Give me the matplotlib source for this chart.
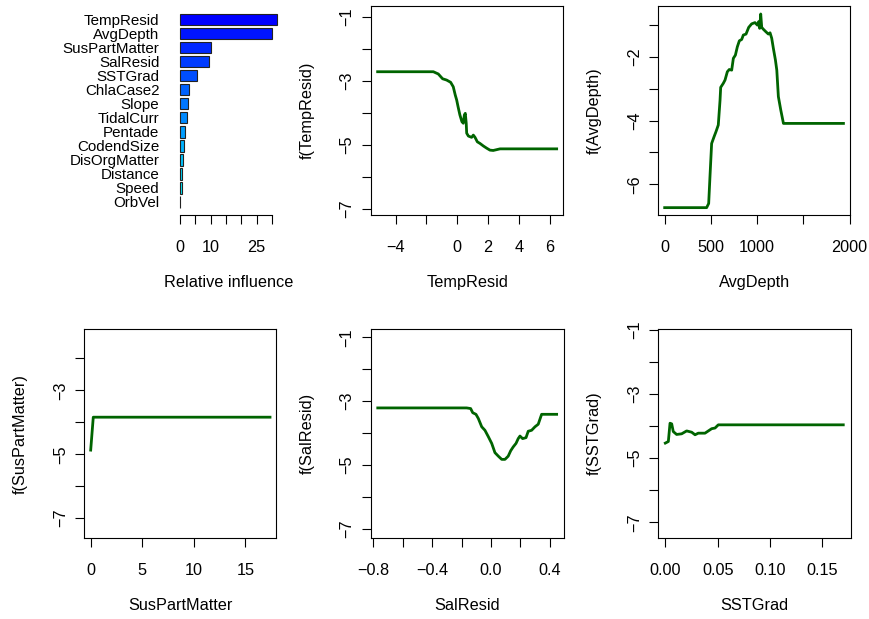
import numpy as np
import matplotlib.pyplot as plt
import colorsys

plt.rcParams['font.family'] = ['Liberation Sans', 'DejaVu Sans']

W, H = 869, 619

# relative influence (gbm summary), top to bottom
var_names = ['TempResid', 'AvgDepth', 'SusPartMatter', 'SalResid', 'SSTGrad', 'ChlaCase2',
             'Slope', 'TidalCurr', 'Pentade', 'CodendSize', 'DisOrgMatter', 'Distance',
             'Speed', 'OrbVel']
rel_inf = [31.5, 29.9, 10.2, 9.35, 5.5, 3.0, 2.5, 2.4, 1.6, 1.4, 1.1, 0.76, 0.7, 0.05]

# partial dependence curves
temp_x = [-5.16, -1.55, -1.23, -0.95, -0.69, -0.43, -0.26, -0.13, -0.04, 0.05, 0.17, 0.30,
          0.39, 0.46, 0.52, 0.58, 0.61, 0.72, 0.93, 1.04, 1.15, 1.30, 1.47, 1.69, 1.91,
          2.12, 2.33, 2.77, 6.44]
temp_y = [-2.72, -2.72, -2.79, -2.94, -2.98, -3.05, -3.19, -3.45, -3.60, -3.81, -4.07, -4.28,
          -4.33, -4.07, -4.02, -4.33, -4.64, -4.73, -4.77, -4.70, -4.77, -4.91, -4.96, -5.04,
          -5.11, -5.17, -5.18, -5.13, -5.13]

depth_x = [0, 454, 476, 490, 508, 534, 555, 580, 599, 606, 635, 653, 678, 699, 725, 743, 765,
           786, 808, 833, 851, 880, 909, 941, 977, 1003, 1017, 1028, 1039, 1050, 1068, 1096,
           1122, 1140, 1158, 1176, 1198, 1213, 1230, 1256, 1285, 1934]
depth_y = [-6.73, -6.73, -6.60, -5.76, -4.72, -4.51, -4.35, -4.14, -3.36, -2.96, -2.83, -2.73,
           -2.47, -2.40, -2.42, -2.05, -1.95, -1.69, -1.50, -1.46, -1.32, -1.29, -1.08, -0.97,
           -0.93, -1.01, -0.90, -1.11, -0.66, -1.08, -1.14, -1.22, -1.29, -1.25, -1.42, -1.74,
           -2.10, -2.42, -3.25, -3.67, -4.09, -4.09]

spm_x = [0.0, 0.25, 17.39]
spm_y = [-4.87, -3.84, -3.84]

sal_x = [-0.769, -0.165, -0.138, -0.124, -0.102, -0.086, -0.063, -0.041, -0.018, 0.005, 0.027,
         0.050, 0.073, 0.095, 0.117, 0.134, 0.151, 0.170, 0.185, 0.197, 0.215, 0.238, 0.253,
         0.276, 0.299, 0.321, 0.344, 0.446]
sal_y = [-3.21, -3.21, -3.23, -3.36, -3.41, -3.54, -3.80, -3.91, -4.11, -4.32, -4.61, -4.72,
         -4.82, -4.82, -4.72, -4.55, -4.43, -4.32, -4.17, -4.09, -4.17, -4.14, -3.94, -3.91,
         -3.80, -3.72, -3.41, -3.41]

sst_x = [0.0, 0.0029, 0.0045, 0.0061, 0.0076, 0.0108, 0.0156, 0.0204, 0.0252, 0.0284, 0.0315,
         0.0379, 0.0411, 0.0443, 0.0475, 0.0506, 0.170]
sst_y = [-4.53, -4.48, -3.91, -3.93, -4.17, -4.26, -4.24, -4.15, -4.19, -4.27, -4.22, -4.22,
         -4.15, -4.08, -4.06, -3.96, -3.96]

FS = 11.7
line_col = '#006400'

fig = plt.figure(figsize=(W / 100, H / 100), dpi=100)


def add_ax(x0, y0, x1, y1):
    # pixel box -> figure fraction
    return fig.add_axes([x0 / W, 1 - y1 / H, (x1 - x0) / W, (y1 - y0) / H])


def style(ax):
    for s in ax.spines.values():
        s.set_linewidth(0.8)
    ax.tick_params(length=6.8, width=0.8, labelsize=FS, color='black')
    ax.tick_params(axis='x', pad=11)
    ax.tick_params(axis='y', pad=5)
    for lab in ax.get_yticklabels():
        lab.set_rotation(90)
        lab.set_va('center')


def pd_panel(box, xs, ys, xlim, ylim, xticks, xlabels, yticks, ylabels, name):
    ax = add_ax(*box)
    ax.plot(xs, ys, color=line_col, lw=2)
    ax.set_xlim(xlim)
    ax.set_ylim(ylim)
    ax.set_xticks(xticks)
    ax.set_xticklabels(xlabels)
    ax.set_yticks(yticks)
    ax.set_yticklabels(ylabels)
    style(ax)
    h = box[3] - box[1]
    w = box[2] - box[0]
    ax.set_xlabel(name, fontsize=FS, va='center')
    ax.xaxis.set_label_coords(0.5, -67 / h)
    ax.set_ylabel('f(' + name + ')', fontsize=FS, va='center')
    ax.yaxis.set_label_coords(-64 / w, 0.5)
    return ax


# bar chart of relative influence
n = len(rel_inf)
ax = add_ax(176.1, 6, 280.5, 215.3)
pos = 0.7 + 1.2 * np.arange(n)
cols = [colorsys.hsv_to_rgb(h, 1, 1) for h in np.linspace(3 / 6, 4 / 6, n)]
ax.barh(pos, rel_inf[::-1], height=1.0, color=cols, edgecolor='#222222', linewidth=0.8)
ax.set_ylim(0.2 - 0.664, 16.8 + 0.664)
ax.set_xlim(-0.04 * 31.5, 31.5 * 1.04)
ax.set_yticks(pos)
ax.set_yticklabels(var_names[::-1], fontsize=10.9)
ax.tick_params(axis='y', length=0, pad=12)
ax.set_xticks(np.arange(0, 31, 5))
ax.set_xticklabels(['0', '', '10', '', '', '25', ''])
ax.tick_params(axis='x', length=6.8, width=0.8, labelsize=FS, pad=11)
for s in ['top', 'right', 'left']:
    ax.spines[s].set_visible(False)
ax.spines['bottom'].set_bounds(0, 30)
ax.spines['bottom'].set_linewidth(0.8)
ax.set_xlabel('Relative influence', fontsize=FS, va='center')
ax.xaxis.set_label_coords(0.5, -67 / 209.3)

ticks7 = [-7, -6, -5, -4, -3, -2, -1]
odd7 = ['\u22127', '', '\u22125', '', '\u22123', '', '\u22121']

pd_panel((371, 6, 563.3, 215.3), temp_x, temp_y, (-5.59, 6.87), (-7.206, -0.666),
         [-4, -2, 0, 2, 4, 6], ['\u22124', '', '0', '2', '4', '6'], ticks7, odd7, 'TempResid')

pd_panel((658.3, 6, 850, 215.3), depth_x, depth_y, (-69, 2005), (-6.97, -0.41),
         [0, 500, 1000, 1500, 2000], ['0', '500', '1000', '', '2000'],
         [-6, -5, -4, -3, -2, -1], ['\u22126', '', '\u22124', '', '\u22122', ''], 'AvgDepth')

pd_panel((84.3, 329.3, 276.3, 538), spm_x, spm_y, (-0.62, 18.0), (-7.62, -1.09),
         [0, 5, 10, 15], ['0', '5', '10', '15'],
         [-7, -6, -5, -4, -3, -2], ['\u22127', '', '\u22125', '', '\u22123', ''], 'SusPartMatter')

pd_panel((371, 329.3, 563.7, 538), sal_x, sal_y, (-0.815, 0.494), (-7.28, -0.75),
         [-0.8, -0.6, -0.4, -0.2, 0.0, 0.2, 0.4],
         ['\u22120.8', '', '\u22120.4', '', '0.0', '', '0.4'], ticks7, odd7, 'SalResid')

pd_panel((658.3, 329.3, 850.7, 538), sst_x, sst_y, (-0.0067, 0.1771), (-7.49, -0.98),
         [0.0, 0.05, 0.10, 0.15], ['0.00', '0.05', '0.10', '0.15'], ticks7, odd7, 'SSTGrad')

fig.savefig('out.png', dpi=100)
